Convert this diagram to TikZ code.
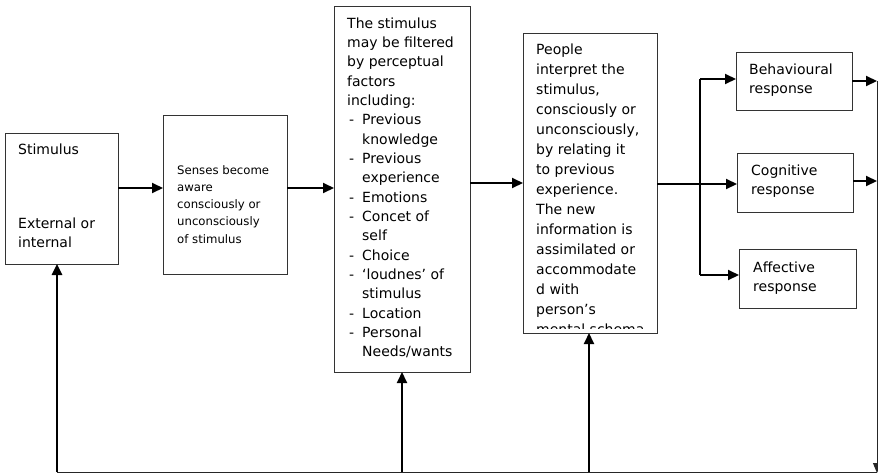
\documentclass[tikz,border=0pt]{standalone}
\usepackage{fontspec}
\setmainfont{DejaVu Sans}
\usetikzlibrary{arrows.meta}

% multi-line text block whose baseline is the first line
\newcommand\boxtext[1]{\begin{tabular}[t]{@{}l@{}}#1\end{tabular}}
% list item with a dash, and its continuation line
\newcommand\dashitem[1]{\makebox[15pt][l]{\hspace{2pt}-}#1}
\newcommand\dashcont[1]{\hspace*{15pt}#1}

\begin{document}
\begin{tikzpicture}[x=1pt,y=-1pt,
  frame/.style={draw=black!80, line width=0.9pt, inner sep=0pt, outer sep=0pt, anchor=north west},
  arr/.style={line width=2pt, -{Triangle[length=11pt,width=10pt]}},
  thinline/.style={draw=black!85, line width=0.9pt},
  txt/.style={inner sep=0pt, anchor=base west, font=\fontsize{14}{19.35}\selectfont},
  smalltxt/.style={inner sep=0pt, anchor=base west, font=\fontsize{11.7}{17.25}\selectfont}]
\useasboundingbox (0,0) rectangle (878,474);

% boxes
\node[frame, minimum width=113pt, minimum height=131pt] (stim)   at (5,133)   {};
\node[frame, minimum width=124pt, minimum height=159pt] (senses) at (163,115) {};
\node[frame, minimum width=136pt, minimum height=366pt] (filter) at (334,6)   {};
\node[frame, minimum width=134pt, minimum height=300pt] (interp) at (523,33)  {};
\node[frame, minimum width=116pt, minimum height=58pt]  (behav)  at (736,52)  {};
\node[frame, minimum width=116pt, minimum height=59pt]  (cogn)   at (737,153) {};
\node[frame, minimum width=117pt, minimum height=59pt]  (affect) at (739,249) {};

% texts
\node[txt] (stimtitle) at (18,154) {Stimulus};
\node[txt] (stimkind)  at (18,228) {\boxtext{External or\\internal}};

\node[smalltxt] (sensestext) at (177,174)
  {\boxtext{Senses become\\aware\\consciously or\\unconsciously\\of stimulus}};

\node[txt] (filtertext) at (347,28)
  {\boxtext{The stimulus\\may be filtered\\by perceptual\\factors\\including:\\
   \dashitem{Previous}\\\dashcont{knowledge}\\
   \dashitem{Previous}\\\dashcont{experience}\\
   \dashitem{Emotions}\\
   \dashitem{Concet of}\\\dashcont{self}\\
   \dashitem{Choice}\\
   \dashitem{‘loudnes’ of}\\\dashcont{stimulus}\\
   \dashitem{Location}\\
   \dashitem{Personal}\\\dashcont{Needs/wants}}};

\begin{scope}
  \clip ([xshift=1pt,yshift=-1pt]interp.north west) rectangle ([xshift=-1pt,yshift=5pt]interp.south east);
  \node[txt, font=\fontsize{14}{20}\selectfont] (interptext) at (536,54)
    {\boxtext{People\\interpret the\\stimulus,\\consciously or\\unconsciously,\\by relating it\\to previous\\experience.\\The new\\information is\\assimilated or\\accommodate\\d with\\person’s\\mental schema}};
\end{scope}

\node[txt] (behavtext)  at (749,74)  {\boxtext{Behavioural\\response}};
\node[txt] (cogntext)   at (751,175) {\boxtext{Cognitive\\response}};
\node[txt] (affecttext) at (753,272) {\boxtext{Affective\\response}};

% main flow
\draw[arr] (stim.east |- 0,188) -- (senses.west |- 0,188);
\draw[arr] (senses.east |- 0,188) -- (filter.west |- 0,188);
\draw[arr] (filter.east |- 0,183) -- (interp.west |- 0,183);
\draw[arr] (interp.east |- 0,184) -- (cogn.west |- 0,184);

% branch to the three responses
\coordinate (split) at (700,184);
\draw[line width=1.3pt] (split |- 0,79) -- (split |- 0,275);
\draw[arr] (split |- 0,79) -- (behav.west |- 0,79);
\draw[arr] (split |- 0,275) -- (affect.west |- 0,275);

% feedback loop
\coordinate (rtop) at (877,81);
\coordinate (rbot) at (877,473);
\coordinate (lbot) at (57,472);
\coordinate (fbfilter) at (402,472);
\coordinate (fbinterp) at (589,472);
\draw[arr] (behav.east |- rtop) -- (rtop);
\draw[arr] (cogn.east |- 0,181) -- (rtop |- 0,181);
\draw[thinline, -{Triangle[length=10pt,width=8pt]}] (rtop) -- (rbot);
\draw[thinline] (lbot) -- (rbot |- lbot);
\draw[arr, line width=2.5pt] (lbot) -- (lbot |- stim.south);
\draw[arr] (fbfilter) -- (fbfilter |- filter.south);
\draw[arr] (fbinterp) -- (fbinterp |- interp.south);
\end{tikzpicture}
\end{document}
